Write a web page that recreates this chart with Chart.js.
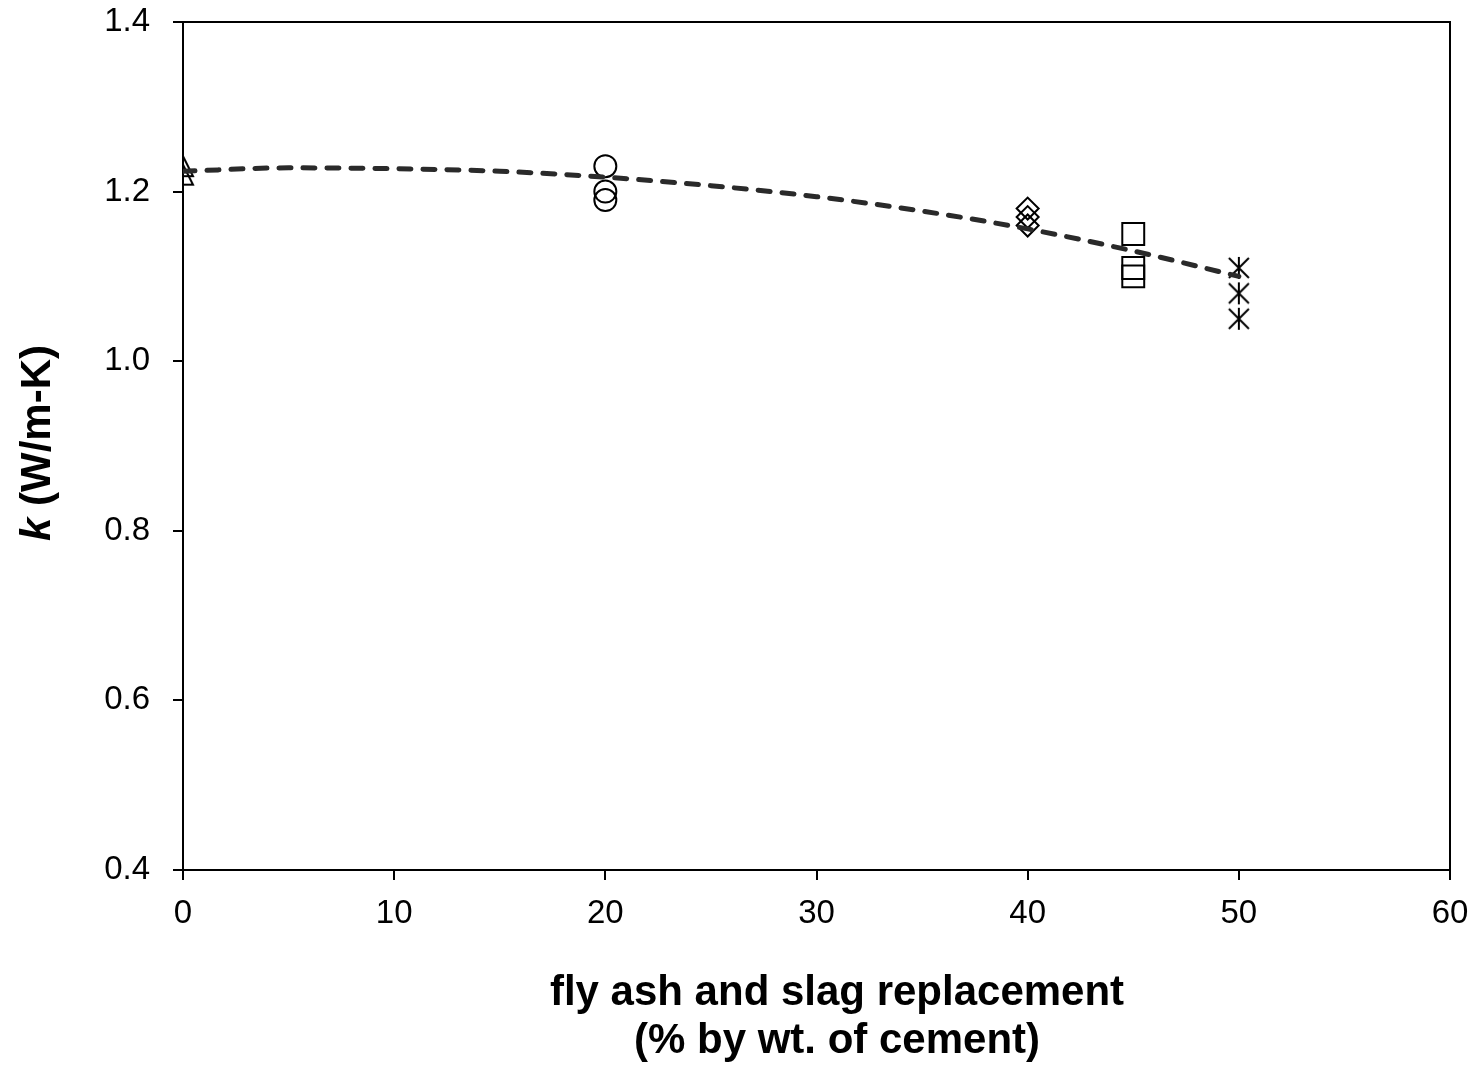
<!DOCTYPE html>
<html>
<head>
<meta charset="utf-8">
<script src="https://cdn.jsdelivr.net/npm/chart.js@4/dist/chart.umd.min.js"></script>
<style>
  html, body { margin: 0; padding: 0; background: #fff; }
  #wrap { width: 1475px; height: 1067px; position: relative; }
</style>
</head>
<body>
<div id="wrap"><canvas id="c" width="1475" height="1067"></canvas></div>
<script>
// ---- data ----
const triangleX = [0, 0];
const triangleY = [1.23, 1.22];
const circleX = [20, 20, 20];
const circleY = [1.23, 1.20, 1.19];
const diamondX = [40, 40, 40];
const diamondY = [1.18, 1.17, 1.16];
const squareX = [45, 45, 45];
const squareY = [1.15, 1.11, 1.10];
const starX = [50, 50, 50];
const starY = [1.11, 1.08, 1.05];
// trend line
const trendX = [0, 5, 10, 15, 20, 25, 30, 35, 40, 45, 50];
const trendY = [1.224, 1.228, 1.227, 1.224, 1.217, 1.207, 1.194, 1.177, 1.156, 1.130, 1.100];

const xTitleLines = ['fly ash and slag replacement', '(% by wt. of cement)'];
const yTitleItalic = 'k';
const yTitleRest = ' (W/m-K)';

const FONT = '"Liberation Sans", Arial, sans-serif';

function pts(xs, ys) { return xs.map((x, i) => ({ x: x, y: ys[i] })); }

// custom marker images
function makeTriangle() {
  const c = document.createElement('canvas'); c.width = 24; c.height = 24;
  const g = c.getContext('2d');
  g.strokeStyle = '#000'; g.lineWidth = 2;
  g.beginPath(); g.moveTo(12, 2); g.lineTo(22, 22); g.lineTo(2, 22); g.closePath(); g.stroke();
  return c;
}
function makeAsterisk() {
  const c = document.createElement('canvas'); c.width = 24; c.height = 24;
  const g = c.getContext('2d');
  g.strokeStyle = '#000'; g.lineWidth = 2;
  g.beginPath();
  g.moveTo(2, 2); g.lineTo(22, 22);
  g.moveTo(22, 2); g.lineTo(2, 22);
  g.moveTo(12, 1); g.lineTo(12, 23);
  g.stroke();
  return c;
}

const markerBase = {
  pointBorderColor: '#000',
  pointBackgroundColor: 'rgba(0,0,0,0)',
  pointBorderWidth: 2,
  showLine: false,
  order: 1
};

const TITLE_FONT_SIZE = 42;

const framePlugin = {
  id: 'frameAndTitles',
  afterDraw(chart) {
    const ctx = chart.ctx, a = chart.chartArea;
    ctx.save();
    ctx.strokeStyle = '#000'; ctx.lineWidth = 2;
    ctx.beginPath();
    ctx.moveTo(a.left, a.top); ctx.lineTo(a.right, a.top); ctx.lineTo(a.right, a.bottom);
    ctx.stroke();

    ctx.fillStyle = '#000';
    // x title
    ctx.font = 'bold ' + TITLE_FONT_SIZE + 'px ' + FONT;
    ctx.textBaseline = 'alphabetic';
    ctx.textAlign = 'center';
    ctx.fillText(xTitleLines[0], 837, 1005);
    ctx.fillText(xTitleLines[1], 837, 1053);
    // y title
    ctx.save();
    ctx.translate(50, 443); ctx.rotate(-Math.PI / 2);
    ctx.textAlign = 'left';
    ctx.font = 'italic bold ' + TITLE_FONT_SIZE + 'px ' + FONT;
    const w1 = ctx.measureText(yTitleItalic).width;
    ctx.font = 'bold ' + TITLE_FONT_SIZE + 'px ' + FONT;
    const w2 = ctx.measureText(yTitleRest).width;
    const s = -(w1 + w2) / 2;
    ctx.font = 'italic bold ' + TITLE_FONT_SIZE + 'px ' + FONT;
    ctx.fillText(yTitleItalic, s, 0);
    ctx.font = 'bold ' + TITLE_FONT_SIZE + 'px ' + FONT;
    ctx.fillText(yTitleRest, s + w1, 0);
    ctx.restore();
    ctx.restore();
  }
};

new Chart(document.getElementById('c'), {
  type: 'scatter',
  data: {
    datasets: [
      {
        label: 'trend', data: pts(trendX, trendY), showLine: true,
        borderColor: '#2a2a2a', borderWidth: 5, borderDash: [12, 12], borderCapStyle: 'round',
        cubicInterpolationMode: 'monotone', pointRadius: 0, order: 0
      },
      Object.assign({ label: 'triangle', data: pts(triangleX, triangleY), pointStyle: makeTriangle(), pointRadius: 12 }, markerBase),
      Object.assign({ label: 'circle', data: pts(circleX, circleY), pointStyle: 'circle', pointRadius: 11 }, markerBase),
      Object.assign({ label: 'diamond', data: pts(diamondX, diamondY), pointStyle: 'rectRot', pointRadius: 11 }, markerBase),
      Object.assign({ label: 'square', data: pts(squareX, squareY), pointStyle: 'rect', pointRadius: 15.5 }, markerBase),
      Object.assign({ label: 'asterisk', data: pts(starX, starY), pointStyle: makeAsterisk(), pointRadius: 12 }, markerBase)
    ]
  },
  options: {
    responsive: false,
    maintainAspectRatio: false,
    devicePixelRatio: 1,
    animation: false,
    layout: { padding: { top: 22, right: 25, left: 0, bottom: 0 } },
    plugins: { legend: { display: false }, tooltip: { enabled: false } },
    scales: {
      x: {
        type: 'linear', min: 0, max: 60,
        afterFit(scale) { scale.height = 197; scale.paddingLeft = 0; scale.paddingRight = 0; },
        ticks: { stepSize: 10, color: '#000', padding: 14, font: { family: FONT, size: 33 } },
        grid: { drawOnChartArea: false, drawTicks: true, tickLength: 10, color: '#000', lineWidth: 2 },
        border: { display: true, color: '#000', width: 2 }
      },
      y: {
        type: 'linear', min: 0.4, max: 1.4,
        afterFit(scale) { scale.width = 183; scale.paddingTop = 0; scale.paddingBottom = 0; },
        ticks: { stepSize: 0.2, color: '#000', padding: 23, font: { family: FONT, size: 33 },
          callback: (v) => Number(v).toFixed(1) },
        grid: { drawOnChartArea: false, drawTicks: true, tickLength: 10, color: '#000', lineWidth: 2 },
        border: { display: true, color: '#000', width: 2 }
      }
    }
  },
  plugins: [framePlugin]
});
</script>
</body>
</html>
